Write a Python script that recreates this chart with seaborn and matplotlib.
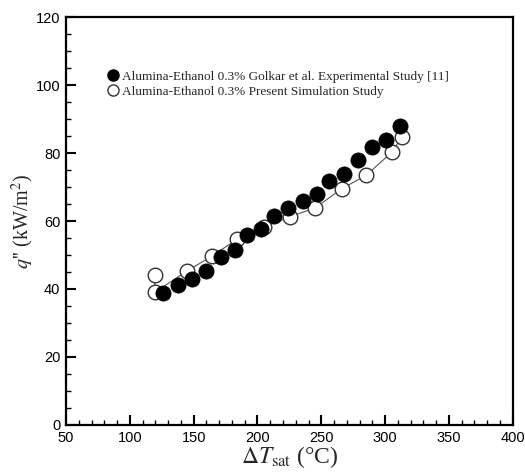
import matplotlib
matplotlib.use("Agg")
import matplotlib.pyplot as plt
from matplotlib.lines import Line2D
from matplotlib.ticker import MultipleLocator
import seaborn as sns
import pandas as pd

# Experimental (filled) series
exp_dt = [126, 137.5, 149, 160, 171.5, 182.5, 191.5, 203, 213, 224, 235.5, 246.5, 256, 268, 279, 289.5, 301, 312]
exp_q = [38.8, 41.1, 43.0, 45.2, 49.4, 51.6, 55.8, 57.7, 61.6, 63.9, 65.8, 67.8, 71.9, 73.9, 77.8, 81.9, 83.8, 88.0]

# Simulation (open) series
sim_dt = [119.5, 119.5, 144.8, 164.5, 183.8, 205.5, 225.5, 245.1, 266, 285, 305.2, 313]
sim_q = [44.0, 39.0, 45.3, 49.7, 54.6, 58.3, 61.3, 63.8, 69.5, 73.4, 80.2, 84.6]

exp_label = "Alumina-Ethanol 0.3% Golkar et al. Experimental Study [11]"
sim_label = "Alumina-Ethanol 0.3% Present Simulation Study"

sns.set_style("white")
plt.rcParams["font.family"] = ["Liberation Sans", "DejaVu Sans"]
plt.rcParams["mathtext.fontset"] = "stix"

fig = plt.figure(figsize=(5.25, 4.74), dpi=100)
ax = fig.add_axes([0.1257, 0.1034, 0.851, 0.8607])

df_exp = pd.DataFrame({"dt": exp_dt, "q": exp_q})
df_sim = pd.DataFrame({"dt": sim_dt, "q": sim_q})

sns.lineplot(data=df_sim, x="dt", y="q", sort=False, estimator=None, ax=ax, color="#555555",
             linewidth=0.8, marker="o", markersize=10.5, markerfacecolor="white",
             markeredgecolor="#333333", markeredgewidth=1.0, zorder=2)
sns.scatterplot(data=df_exp, x="dt", y="q", ax=ax, color="black", s=120,
                edgecolor="black", linewidth=0.5, zorder=3)

ax.set_xlim(50, 400)
ax.set_ylim(0, 120)
ax.xaxis.set_major_locator(MultipleLocator(50))
ax.xaxis.set_minor_locator(MultipleLocator(10))
ax.yaxis.set_major_locator(MultipleLocator(20))
ax.yaxis.set_minor_locator(MultipleLocator(5))
ax.tick_params(which="both", direction="in", bottom=True, left=True, top=False, right=False,
               colors="black", labelsize=10.5)
ax.tick_params(which="major", length=7, width=1.5, pad=4)
ax.tick_params(which="minor", length=3.5, width=1.0)
for s in ax.spines.values():
    s.set_linewidth(1.6)
    s.set_color("black")

ax.set_xlabel(r"$\Delta T_{\rm sat}$ (°C)", family="Liberation Serif", fontsize=17, labelpad=0)
ax.set_ylabel(r"$q$'' (kW/m$^2$)", family="Liberation Serif", fontsize=14.5, labelpad=0)

handles = [
    Line2D([], [], linestyle="none", marker="o", markersize=8, markerfacecolor="black", markeredgecolor="black"),
    Line2D([], [], linestyle="none", marker="o", markersize=8, markerfacecolor="white", markeredgecolor="#333333"),
]
leg = ax.legend(handles, [exp_label, sim_label], loc="upper left", bbox_to_anchor=(0.085, 0.882),
                frameon=False, handlelength=0.6, handletextpad=0.35, labelspacing=0.2,
                prop={"family": "Liberation Serif", "size": 9.5}, borderaxespad=0)

fig.savefig("out.png", dpi=100)
